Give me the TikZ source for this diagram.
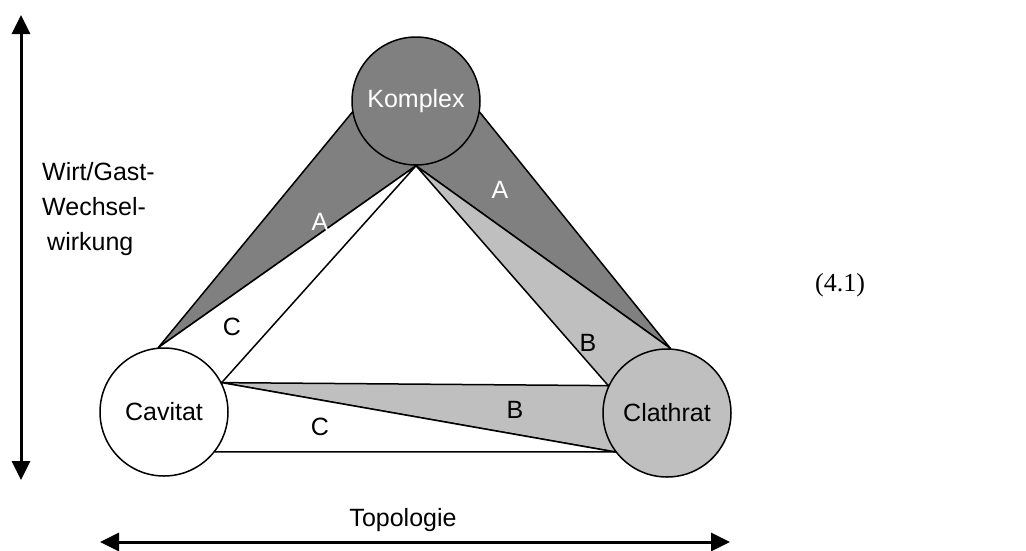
\documentclass[tikz,border=0pt]{standalone}
\usepackage{fontspec}
\setmainfont{Liberation Sans}
\newfontfamily\eqfont{Liberation Serif}
\usetikzlibrary{arrows.meta,backgrounds}

\begin{document}
\begin{tikzpicture}[x=1pt, y=-1pt, font=\fontsize{25}{35}\selectfont]

        % Styles
        \tikzstyle{kind} = [circle, draw=black, line width=1.5pt, minimum size=128pt, inner sep=0pt]
        \tikzstyle{band} = [draw=black, line width=1.5pt, line join=round]
        \tikzstyle{tag} = [inner sep=0pt]
        \tikzstyle{axis} = [line width=3pt, {Triangle[length=19pt,width=18pt]}-{Triangle[length=19pt,width=18pt]}]

        \useasboundingbox (0,0) rectangle (1026,550);

        % Three classes
        \node[kind, fill=gray, text=white] (komplex) at (416,101) {Komplex};
        \node[kind, fill=white] (cavitat) at (164,412) {Cavitat};
        \node[kind, fill=gray!50] (clathrat) at (667,413) {Clathrat};

        % Bands between the classes
        \begin{scope}[on background layer]
            \draw[band, fill=gray] (cavitat.95) -- (komplex.190) -- (komplex.south) -- cycle;
            \draw[band, fill=white] (komplex.south) -- (cavitat.95) -- (cavitat.27) -- cycle;
            \draw[band, fill=gray] (clathrat.87) -- (komplex.-10) -- (komplex.south) -- cycle;
            \draw[band, fill=gray!50] (komplex.south) -- (clathrat.87) -- (clathrat.155) -- cycle;
            \draw[band, fill=gray!50] (cavitat.27) -- (clathrat.155) -- (clathrat.217) -- cycle;
            \draw[band, fill=white] (cavitat.27) -- (clathrat.217) -- (cavitat.-38) -- cycle;
        \end{scope}

        % Band labels
        \node[tag, text=white] (al) at (320,222) {A};
        \node[tag, text=white] (ar) at (500,190) {A};
        \node[tag] (cl) at (232,327) {C};
        \node[tag] (br) at (588,343) {B};
        \node[tag] (bb) at (515,410) {B};
        \node[tag] (cb) at (320,427) {C};

        % Axes
        \coordinate (vtop) at (21,15);
        \coordinate (vbot) at (21,480);
        \coordinate (hleft) at (100,542);
        \coordinate (hright) at (730,542);
        \draw[axis] (vtop) -- (vbot);
        \draw[axis] (hleft) -- (hright);
        \node[tag, anchor=north west, align=left] (wgw) at (42,162) {Wirt/Gast-\\Wechsel-\\\hspace{5pt}wirkung};
        \node[tag] (topo) at (403,520) {Topologie};

        \node[tag, font=\eqfont\fontsize{26}{30}\selectfont] (eqno) at (840,285) {(4.1)};

    \end{tikzpicture}
\end{document}
